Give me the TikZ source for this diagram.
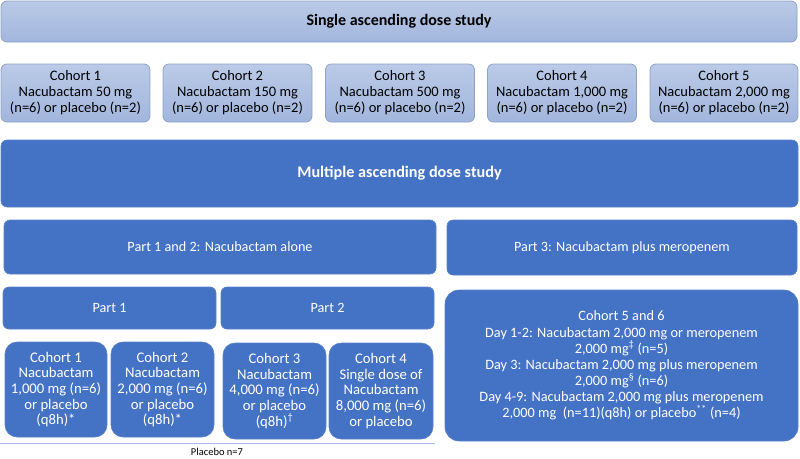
\documentclass[tikz,border=0pt]{standalone}
\usepackage{fontspec}
\setmainfont{Carlito}
\usetikzlibrary{positioning}
\definecolor{darkb}{HTML}{4472C4}
\definecolor{darkbd}{HTML}{5A82C9}
\definecolor{lighttop}{HTML}{BACAE7}
\definecolor{lightbot}{HTML}{A2B6DD}
\definecolor{lightbd}{HTML}{8EA2C8}
\definecolor{sepline}{HTML}{A9BCE0}
\tikzset{
  lightbox/.style={draw=lightbd, line width=0.8pt, rounded corners=6pt, top color=lighttop, bottom color=lightbot, align=center, text=black, inner sep=0pt, font=\fontsize{14.5}{16}\selectfont},
  darkbox/.style={draw=darkbd, line width=0.6pt, fill=darkb, rounded corners=6pt, align=center, text=white, inner sep=0pt, font=\fontsize{14.2}{16}\selectfont},
  roundbox/.style={darkbox, rounded corners=12pt, font=\fontsize{14.7}{15.6}\selectfont},
  bigbox/.style={darkbox, rounded corners=14pt, font=\fontsize{14.3}{16.1}\selectfont},
}
\begin{document}
\begin{tikzpicture}[x=1pt,y=-1pt]
\useasboundingbox (0,0) rectangle (800,458);
% SAD
\node[lightbox, minimum width=796pt, minimum height=41pt, font=\bfseries\fontsize{16}{18}\selectfont] (sad) at (399,21.5) {Single ascending dose study};
\node[lightbox, minimum width=149pt, minimum height=58pt] (s1) at (75.5,93) {Cohort 1\\Nacubactam 50 mg\\(n=6) or placebo (n=2)};
\node[lightbox, minimum width=149pt, minimum height=58pt] (s2) at (237.5,93) {Cohort 2\\Nacubactam 150 mg\\(n=6) or placebo (n=2)};
\node[lightbox, minimum width=149pt, minimum height=58pt] (s3) at (400,93) {Cohort 3\\Nacubactam 500 mg\\(n=6) or placebo (n=2)};
\node[lightbox, minimum width=149pt, minimum height=58pt] (s4) at (562,93) {Cohort 4\\Nacubactam 1,000 mg\\(n=6) or placebo (n=2)};
\node[lightbox, minimum width=148pt, minimum height=58pt] (s5) at (724,93) {Cohort 5\\Nacubactam 2,000 mg\\(n=6) or placebo (n=2)};
% MAD
\node[darkbox, minimum width=797pt, minimum height=67pt, font=\bfseries\fontsize{16.2}{18}\selectfont] (mad) at (399.5,173.5) {Multiple ascending dose study};
\node[darkbox, minimum width=432pt, minimum height=54pt] (p12) at (220,247) {Part 1 and 2: Nacubactam alone};
\node[darkbox, minimum width=350pt, minimum height=55pt] (p3) at (622,247.5) {Part 3: Nacubactam plus meropenem};
\node[darkbox, minimum width=213pt, minimum height=42pt] (p1) at (109.5,308) {Part 1};
\node[darkbox, minimum width=213pt, minimum height=42pt] (p2) at (327.5,308) {Part 2};
\node[bigbox, minimum width=353pt, minimum height=151pt] (c56) at (621.5,365.5) {Cohort 5 and 6\\Day 1-2: Nacubactam 2,000 mg or meropenem\\2,000 mg\textsuperscript{‡} (n=5)\\Day 3: Nacubactam 2,000 mg plus meropenem\\2,000 mg\textsuperscript{§} (n=6)\\Day 4-9: Nacubactam 2,000 mg plus meropenem\\2,000 mg~ (n=11)(q8h) or placebo\textsuperscript{**} (n=4)};
\node[roundbox, minimum width=102pt, minimum height=95pt] (m1) at (56,389.5) {Cohort 1\\Nacubactam\\1,000 mg (n=6)\\or placebo\\(q8h)*};
\node[roundbox, minimum width=103pt, minimum height=95pt] (m2) at (162.5,389.5) {Cohort 2\\Nacubactam\\2,000 mg (n=6)\\or placebo\\(q8h)*};
\node[roundbox, minimum width=103pt, minimum height=96pt] (m3) at (274.5,391) {Cohort 3\\Nacubactam\\4,000 mg (n=6)\\or placebo\\(q8h)\textsuperscript{†}};
\node[roundbox, minimum width=104pt, minimum height=96pt] (m4) at (381,391) {Cohort 4\\Single dose of\\Nacubactam\\8,000 mg (n=6)\\or placebo};
% placebo line
\coordinate (la) at (0,443.5);
\coordinate (lb) at (435,443.5);
\draw[sepline, line width=1.2pt] (la) -- (lb);
\node[font=\fontsize{10.5}{12}\selectfont, inner sep=0pt] (pl) at (217,452) {Placebo n=7};
\end{tikzpicture}
\end{document}
